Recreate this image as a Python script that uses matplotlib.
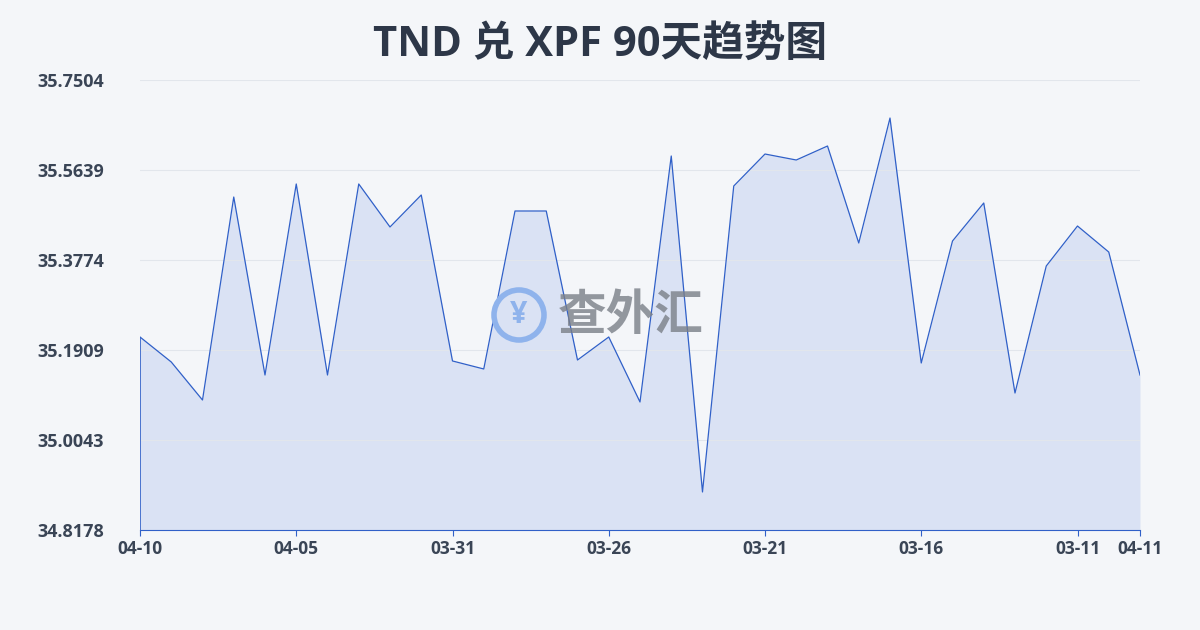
import matplotlib
matplotlib.use("Agg")
import matplotlib.pyplot as plt
from matplotlib.patches import Ellipse

plt.rcParams['font.family'] = ['Open Sans', 'Noto Sans CJK SC', 'DejaVu Sans']

dates = ["04-10","04-09","04-08","04-07","04-06","04-05","04-04","04-03","04-02","04-01",
         "03-31","03-30","03-29","03-28","03-27","03-26","03-25","03-24","03-23","03-22",
         "03-21","03-20","03-19","03-18","03-17","03-16","03-15","03-14","03-13","03-12",
         "03-11","03-10","04-11"]
values = [35.2178,35.1660,35.0872,35.5079,35.1390,35.5349,35.1390,35.5349,35.4458,35.5121,
          35.1681,35.1515,35.4789,35.4789,35.1701,35.2178,35.0831,35.5929,34.8966,35.5307,
          35.5970,35.5846,35.6136,35.4126,35.6716,35.1639,35.4167,35.4955,35.1017,35.3649,
          35.4478,35.3939,35.1390]
yticks = [34.8178,35.0043,35.1909,35.3774,35.5639,35.7504]
tick_idx = [0,5,10,15,20,25,30,32]

fig = plt.figure(figsize=(12,6.3), dpi=100)
fig.patch.set_facecolor('#f4f6f9')
ax = fig.add_axes([140/1200, 100/630, 1000/1200, 450/630])
ax.set_facecolor('none')
x = list(range(len(values)))
ax.fill_between(x, values, yticks[0], color='#c9d6f2', alpha=0.6, lw=0)
ax.plot(x, values, color='#3060c8', lw=0.9)
ax.plot([0, 0], [yticks[0], values[0]], color='#3060c8', lw=0.6)
ax.set_xlim(0, len(values)-1)
ax.set_ylim(yticks[0], yticks[-1])
ax.set_yticks(yticks)
ax.set_yticklabels([f"{v:.4f}" for v in yticks])
ax.set_xticks(tick_idx)
ax.set_xticklabels([dates[i] for i in tick_idx])
ax.grid(axis='y', color='#e2e6ec', lw=0.8)
for s in ['top','right','left']:
    ax.spines[s].set_visible(False)
ax.spines['bottom'].set_color('#3060c8'); ax.spines['bottom'].set_linewidth(0.8)
ax.tick_params(axis='y', length=0, pad=0, labelsize=13, labelcolor='#3a4556')
ax.tick_params(axis='x', length=4, color='#3060c8', labelsize=12.5, labelcolor='#3a4556')
for t in ax.get_yticklabels()+ax.get_xticklabels():
    t.set_fontweight('bold')
for t in ax.get_yticklabels():
    t.set_horizontalalignment('left'); t.set_x(-0.103)

fig.text(0.5, 0.927, "TND 兑 XPF 90天趋势图", ha='center', va='center',
         fontsize=30, fontweight='bold', color='#2d3748')
cx, cy = 519/1200, 1-315/630
fig.patches.append(Ellipse((cx, cy), 50/1200, 50/630, transform=fig.transFigure, fill=False,
                           ec='#8fb3ec', lw=4))
fig.text(cx, cy, "¥", ha='center', va='center', fontsize=22, color='#8fb3ec', fontweight='bold')
fig.text(558/1200, cy, "查外汇", ha='left', va='center', fontsize=35, fontweight='bold',
         color='#7a7f88', alpha=0.8, family='Noto Sans CJK SC')
fig.savefig("out.png", dpi=100)
